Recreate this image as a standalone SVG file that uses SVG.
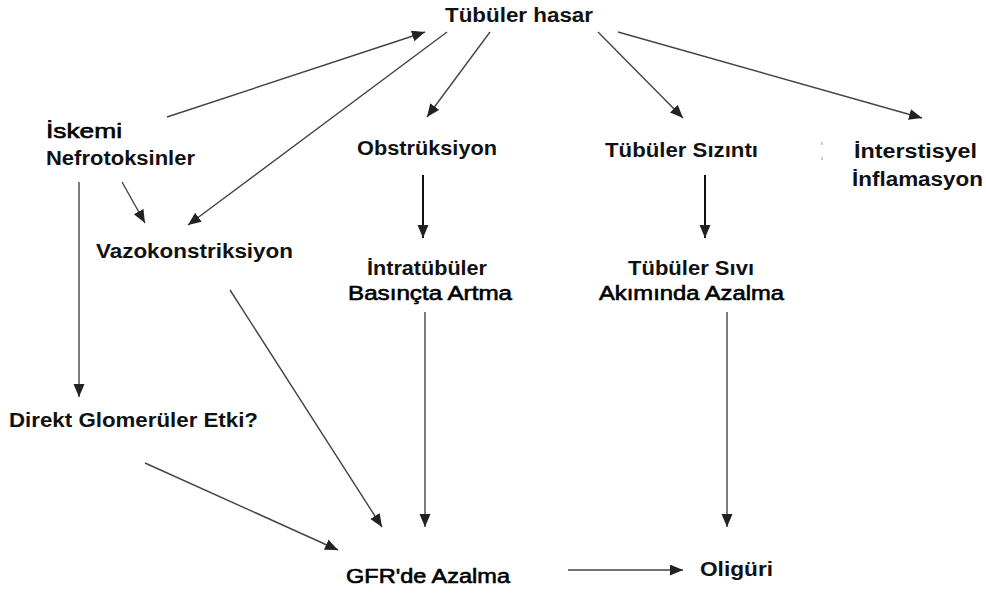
<svg xmlns="http://www.w3.org/2000/svg" width="986" height="594" viewBox="0 0 986 594">
<defs>
<style>
text{font-family:"Liberation Sans",Arial,sans-serif;font-size:20px;font-weight:bold;fill:#111}
text.n{font-weight:normal;fill:#000;stroke:#000;stroke-width:0.6}
.c{stroke:#444;stroke-width:1.4;fill:none}
.k{stroke:#111;stroke-width:2;fill:none}
</style>
<marker id="ah" markerUnits="userSpaceOnUse" markerWidth="14" markerHeight="12" refX="13" refY="5.5" orient="auto">
<path d="M0,0 L13,5.5 L0,11 z" fill="#222"/>
</marker>
</defs>
<rect width="986" height="594" fill="#fff"/>
<g id="connectors">
<line class="c" x1="167" y1="117" x2="425" y2="32" marker-end="url(#ah)"/>
<line class="c" x1="447" y1="32" x2="188" y2="225" marker-end="url(#ah)"/>
<line class="c" x1="490" y1="32" x2="427" y2="117" marker-end="url(#ah)"/>
<line class="c" x1="122" y1="182" x2="145" y2="223" marker-end="url(#ah)"/>
<line class="c" x1="79" y1="182" x2="79" y2="397" marker-end="url(#ah)"/>
<line class="k" x1="423" y1="175" x2="423" y2="238" marker-end="url(#ah)"/>
<line class="c" x1="598" y1="32" x2="683" y2="118" marker-end="url(#ah)"/>
<line class="c" x1="618" y1="32" x2="922" y2="118" marker-end="url(#ah)"/>
<line class="k" x1="705" y1="175" x2="705" y2="238" marker-end="url(#ah)"/>
<line class="c" x1="230" y1="290" x2="382" y2="527" marker-end="url(#ah)"/>
<line class="c" x1="425" y1="312" x2="425" y2="527" marker-end="url(#ah)"/>
<line class="c" x1="145" y1="463" x2="338" y2="550" marker-end="url(#ah)"/>
<line class="c" x1="727" y1="312" x2="727" y2="527" marker-end="url(#ah)"/>
<line class="c" x1="568" y1="570" x2="683" y2="570" marker-end="url(#ah)"/>
</g>
<g id="tubuler-hasar"><text x="445" y="22" textLength="148" lengthAdjust="spacingAndGlyphs">Tübüler hasar</text></g>
<g id="iskemi"><text class="n" x="46" y="138" textLength="76" lengthAdjust="spacingAndGlyphs">İskemi</text><text x="46" y="165" textLength="149" lengthAdjust="spacingAndGlyphs">Nefrotoksinler</text></g>
<g id="vazokonstriksiyon"><text x="96" y="258" textLength="197" lengthAdjust="spacingAndGlyphs">Vazokonstriksiyon</text></g>
<g id="obstruksiyon"><text x="357" y="155" textLength="140" lengthAdjust="spacingAndGlyphs">Obstrüksiyon</text></g>
<g id="tubuler-sizinti"><text x="605" y="157" textLength="153" lengthAdjust="spacingAndGlyphs">Tübüler Sızıntı</text></g>
<g id="interstisyel"><text x="854" y="158" textLength="123" lengthAdjust="spacingAndGlyphs">İnterstisyel</text><text x="852" y="186" textLength="131" lengthAdjust="spacingAndGlyphs">İnflamasyon</text></g>
<g id="intratubuler"><text x="367" y="275" textLength="120" lengthAdjust="spacingAndGlyphs">İntratübüler</text><text class="n" x="348" y="300" textLength="164" lengthAdjust="spacingAndGlyphs">Basınçta Artma</text></g>
<g id="tubuler-sivi"><text x="628" y="275" textLength="126" lengthAdjust="spacingAndGlyphs">Tübüler Sıvı</text><text class="n" x="599" y="300" textLength="185" lengthAdjust="spacingAndGlyphs">Akımında Azalma</text></g>
<g id="direkt"><text x="9" y="427" textLength="249" lengthAdjust="spacingAndGlyphs">Direkt Glomerüler Etki?</text></g>
<g id="gfr"><text class="n" x="346" y="583" textLength="164" lengthAdjust="spacingAndGlyphs">GFR'de Azalma</text></g>
<g id="oligori"><text x="700" y="576" textLength="73" lengthAdjust="spacingAndGlyphs">Oligüri</text></g>
<rect x="821" y="142" width="2" height="3" fill="#ccc"/>
<rect x="821" y="157" width="2" height="3" fill="#ccc"/>
</svg>
